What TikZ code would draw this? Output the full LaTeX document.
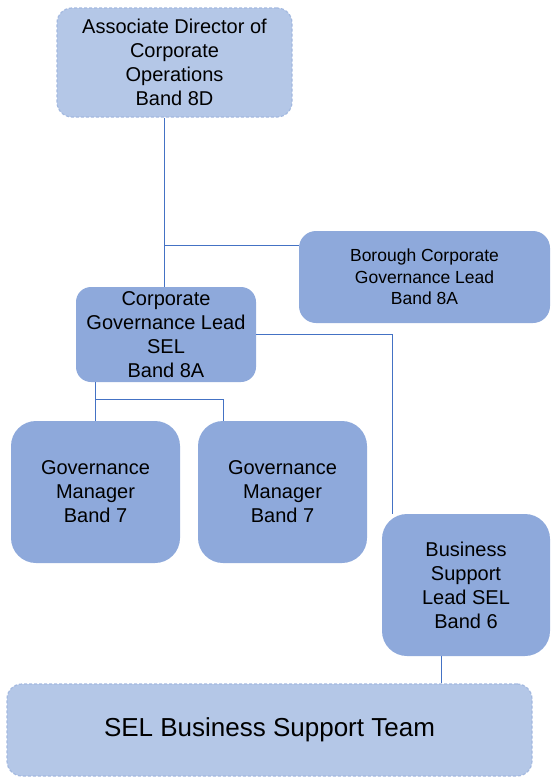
\documentclass[tikz,border=0pt]{standalone}
\usepackage{fontspec}
\setmainfont{Liberation Sans}
\usetikzlibrary{calc}
\definecolor{solidfill}{HTML}{8EA9DB}
\definecolor{lightfill}{HTML}{B4C7E7}
\definecolor{dashline}{HTML}{A3B9E0}
\definecolor{connline}{HTML}{4472C4}
\tikzset{
  solidbox/.style={rectangle, fill=solidfill, draw=none, inner sep=0pt, align=center, font=\fontsize{20}{24}\selectfont},
  lightbox/.style={rectangle, fill=lightfill, draw=dashline, dash pattern=on 3pt off 2pt, line width=1.2pt, inner sep=0pt, align=center},
  conn/.style={draw=connline, line width=1pt},
}
\begin{document}
\begin{tikzpicture}[x=1pt,y=-1pt]
\useasboundingbox (0,0) rectangle (551,779);
% boxes
\node[lightbox, rounded corners=15pt, minimum width=235pt, minimum height=109pt, font=\fontsize{20}{24}\selectfont] (top) at (174.5,62.5) {Associate Director of\\Corporate\\Operations\\Band 8D};
\node[solidbox, rounded corners=17pt, minimum width=251pt, minimum height=92pt, font=\fontsize{17.5}{21.5}\selectfont] (bor) at (424.5,277) {Borough Corporate\\Governance Lead\\Band 8A};
\node[solidbox, rounded corners=15pt, minimum width=180pt, minimum height=95pt] (cgl) at (166,334.5) {Corporate\\Governance Lead\\SEL\\Band 8A};
\node[solidbox, rounded corners=25pt, minimum width=169pt, minimum height=142pt] (gma) at (95.5,492) {Governance\\Manager\\Band 7};
\node[solidbox, rounded corners=25pt, minimum width=169pt, minimum height=142pt] (gmb) at (282.5,492) {Governance\\Manager\\Band 7};
\node[solidbox, rounded corners=25pt, minimum width=168pt, minimum height=142pt] (bsl) at (466,585) {Business\\Support\\Lead SEL\\Band 6};
\node[lightbox, rounded corners=15pt, minimum width=525pt, minimum height=92pt, font=\fontsize{26}{30}\selectfont] (team) at (269.5,730) {SEL Business Support Team};
% helper coordinates
\coordinate (vx) at (164,0);
\coordinate (j1) at (164,245);
\coordinate (bx) at (392,0);
\coordinate (j2) at (0,399);
\coordinate (gx) at (223,0);
\coordinate (tx) at (441,0);
% connectors
\draw[conn] (top.south -| vx) -- (cgl.north -| vx);
\draw[conn] (j1) -- (j1 -| bor.west);
\draw[conn] (cgl.east) -| (bsl.north -| bx);
\draw[conn] (cgl.south -| gma.north) -- (gma.north);
\draw[conn] (j2 -| gma.north) -| (gmb.north -| gx);
\draw[conn] (bsl.south -| tx) -- (team.north -| tx);
\end{tikzpicture}
\end{document}
